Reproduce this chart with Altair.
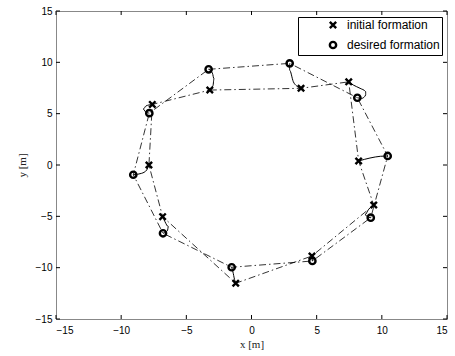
import altair as alt
import pandas as pd

# initial formation (x markers), in polygon order
init_x = [-3.2, 3.8, 7.46, 8.22, 9.38, 4.64, -1.21, -6.82, -7.87, -7.61]
init_y = [7.3, 7.47, 8.1, 0.39, -3.9, -8.86, -11.52, -5.03, 0.0, 5.9]
# desired formation (o markers), same order
des_x = [-3.29, 2.93, 8.12, 10.45, 9.15, 4.67, -1.52, -6.79, -9.07, -7.84]
des_y = [9.32, 9.9, 6.55, 0.88, -5.13, -9.35, -9.96, -6.65, -0.95, 5.05]

# trajectories from initial to desired
traj_x = [
    [-3.2, -2.95, -2.88, -3.0, -3.29],
    [3.8, 3.47, 3.21, 2.92, 2.93],
    [7.46, 7.81, 8.33, 8.76, 8.76, 8.46, 8.12],
    [-7.61, -8.1, -8.3, -8.15, -7.84],
    [-7.87, -7.95, -8.04, -8.43, -9.07],
    [-6.82, -6.64, -6.38, -6.45, -6.79],
    [-1.21, -1.33, -1.4, -1.52],
    [4.64, 4.67],
    [9.38, 8.97, 8.71, 8.85, 9.15],
    [8.22, 9.09, 9.9, 10.45],
]
traj_y = [
    [7.3, 7.75, 8.4, 8.95, 9.32],
    [7.47, 7.69, 8.11, 9.25, 9.9],
    [8.1, 7.79, 7.47, 7.14, 6.82, 6.49, 6.55],
    [5.9, 5.75, 5.45, 5.2, 5.05],
    [0.0, -0.25, -0.49, -0.81, -0.95],
    [-5.03, -5.52, -6.0, -6.4, -6.65],
    [-11.52, -11.0, -10.55, -9.96],
    [-8.86, -9.35],
    [-3.9, -4.35, -4.84, -5.0, -5.13],
    [0.39, 0.68, 0.85, 0.88],
]

ticks = [-15, -10, -5, 0, 5, 10, 15]
labels = ["initial formation", "desired formation"]

W, H = 391, 308

# polygon table (closed)
rows = []
for name, xs, ys in [("init", init_x, init_y), ("des", des_x, des_y)]:
    n = len(xs)
    for i in range(n + 1):
        rows.append({"x": xs[i % n], "y": ys[i % n], "g": name, "o": i})
poly = pd.DataFrame(rows)

trows = []
for k, (xs, ys) in enumerate(zip(traj_x, traj_y)):
    for i, (a, b) in enumerate(zip(xs, ys)):
        trows.append({"x": a, "y": b, "g": k, "o": i})
traj = pd.DataFrame(trows)

pts = pd.DataFrame(
    [{"x": a, "y": b, "kind": labels[0]} for a, b in zip(init_x, init_y)]
    + [{"x": a, "y": b, "kind": labels[1]} for a, b in zip(des_x, des_y)]
)

xs = alt.Scale(domain=[-15, 15], nice=False, zero=False)
ys = alt.Scale(domain=[-15, 15], nice=False, zero=False)

xaxis = alt.Axis(values=ticks, ticks=False, domain=True, grid=False,
                 labelPadding=6, title="x [m]", titleFont="Liberation Serif",
                 titleFontSize=11, titleFontWeight="normal", titleColor="#222",
                 titlePadding=3)
yaxis = alt.Axis(values=ticks, ticks=False, domain=True, grid=False,
                 labelPadding=4, title="y [m]", titleFont="Liberation Serif",
                 titleFontSize=11, titleFontWeight="normal", titleColor="#222",
                 titlePadding=8)
topaxis = alt.Axis(orient="top", values=ticks, ticks=False, labels=False,
                   domain=True, grid=False, title=None)
rightaxis = alt.Axis(orient="right", values=ticks, ticks=False, labels=False,
                     domain=True, grid=False, title=None)

polys = alt.Chart(poly).mark_line(
    color="black", strokeWidth=0.8, strokeDash=[7, 3, 1.5, 3]
).encode(
    x=alt.X("x:Q", scale=xs, axis=xaxis),
    y=alt.Y("y:Q", scale=ys, axis=yaxis),
    detail="g:N",
    order="o:Q",
)

trajs = alt.Chart(traj).mark_line(
    color="black", strokeWidth=1, interpolate="monotone"
).encode(
    x=alt.X("x:Q", scale=xs, axis=None),
    y=alt.Y("y:Q", scale=ys, axis=None),
    detail="g:N",
    order="o:Q",
)

xpath = "M-1,-1L1,1M-1,1L1,-1"
points = alt.Chart(pts).mark_point(
    filled=False, color="black", strokeWidth=2.4, size=40, opacity=1
).encode(
    x=alt.X("x:Q", scale=xs, axis=None),
    y=alt.Y("y:Q", scale=ys, axis=None),
    shape=alt.Shape(
        "kind:N",
        scale=alt.Scale(domain=labels, range=[xpath, "circle"]),
        legend=alt.Legend(
            title=None, orient="none", legendX=242, legendY=6,
            strokeColor="black", fillColor="white", padding=2,
            symbolOffset=27, labelOffset=8, rowPadding=4,
            labelFont="Liberation Sans", labelFontSize=12, labelColor="black",
            symbolStrokeColor="black", symbolStrokeWidth=2.4, symbolSize=40,
            symbolFillColor="transparent", cornerRadius=0,
        ),
    ),
)

tdf_x = pd.DataFrame({"x": ticks})
tdf_y = pd.DataFrame({"y": ticks})
tick_b = alt.Chart(tdf_x).mark_rule(color="black", strokeWidth=1).encode(
    x=alt.X("x:Q", scale=xs, axis=None), y=alt.value(H), y2=alt.value(H - 4))
tick_t = alt.Chart(tdf_x).mark_rule(color="black", strokeWidth=1).encode(
    x=alt.X("x:Q", scale=xs, axis=topaxis), y=alt.value(0), y2=alt.value(4))
tick_l = alt.Chart(tdf_y).mark_rule(color="black", strokeWidth=1).encode(
    y=alt.Y("y:Q", scale=ys, axis=None), x=alt.value(0), x2=alt.value(4))
tick_r = alt.Chart(tdf_y).mark_rule(color="black", strokeWidth=1).encode(
    y=alt.Y("y:Q", scale=ys, axis=rightaxis), x=alt.value(W), x2=alt.value(W - 4))

chart = alt.layer(polys, trajs, tick_b, tick_t, tick_l, tick_r, points).resolve_axis(
    x="independent", y="independent"
).properties(
    width=W, height=H,
    autosize=alt.AutoSizeParams(type="none"),
    padding={"left": 56, "top": 11, "right": 8, "bottom": 37},
).configure_view(
    stroke=None
).configure_axis(
    labelFont="Liberation Sans", labelFontSize=10.5, labelColor="black",
    domainColor="black", domainWidth=1
).configure(background="white")

chart.save("out.html", embed_options={"renderer": "svg", "actions": False})
